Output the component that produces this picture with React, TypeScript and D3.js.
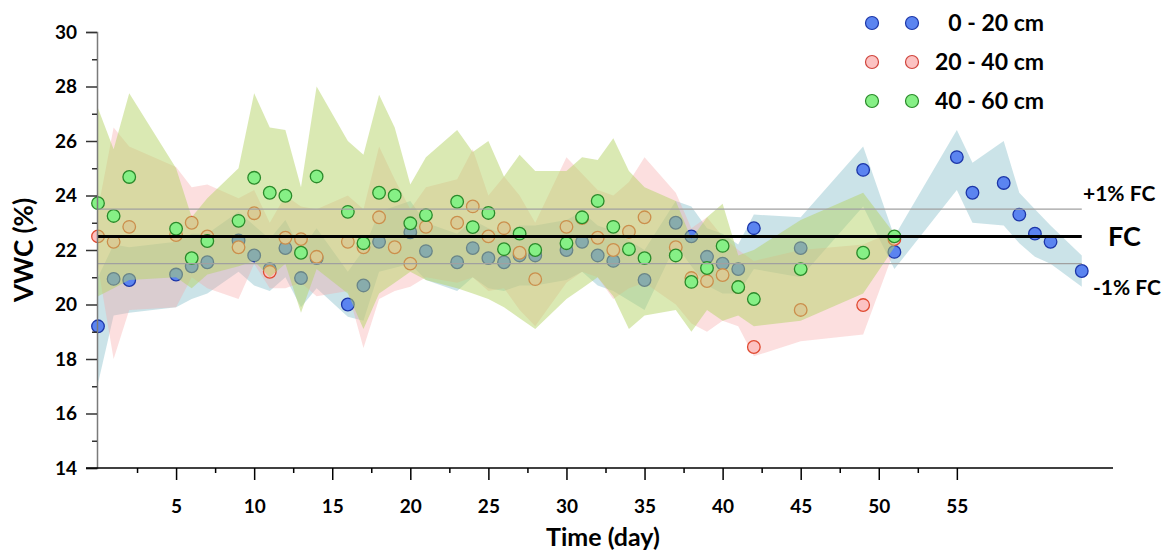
import React, { useEffect, useRef } from 'react';
import * as d3 from 'd3';

// days with readings for 20-40 cm and 40-60 cm
const days = [0, 1, 2, 5, 6, 7, 9, 10, 11, 12, 13, 14, 16, 17, 18, 19, 20, 21, 23, 24, 25, 26, 27, 28, 30, 31, 32, 33, 34, 35, 37, 38, 39, 40, 41, 42, 45, 49, 51];

// 0 - 20 cm has its own days
const blueDays = [0, 1, 2, 5, 6, 7, 9, 10, 11, 12, 13, 14, 16, 17, 18, 20, 21, 23, 24, 25, 26, 27, 28, 30, 31, 32, 33, 35, 37, 38, 39, 40, 41, 42, 45, 49, 51, 55, 56, 58, 59, 60, 61, 63];
const blueMean = [19.2, 20.94, 20.9, 21.1, 21.4, 21.55, 22.35, 21.8, 21.3, 22.07, 20.97, 21.7, 20.0, 20.7, 22.3, 22.65, 21.96, 21.55, 22.07, 21.7, 21.55, 21.8, 21.8, 22.0, 22.3, 21.8, 21.6, 20.9, 23.0, 22.5, 21.75, 21.5, 21.3, 22.8, 22.07, 24.94, 21.93, 25.41, 24.1, 24.46, 23.3, 22.6, 22.3, 21.23];
const blueUpper = [21.0, 22.2, 22.1, 22.3, 22.6, 22.6, 23.4, 22.9, 22.4, 23.1, 22.0, 22.8, 21.2, 22.0, 23.4, 23.8, 23.0, 22.6, 23.1, 22.8, 22.6, 22.9, 22.9, 23.1, 23.4, 22.9, 22.7, 22.0, 23.8, 23.6, 22.8, 22.6, 22.2, 23.3, 23.2, 25.8, 22.5, 26.4, 25.2, 26.0, 24.1, 23.5, 22.9, 21.8];
const blueLower = [17.1, 19.6, 19.7, 19.9, 20.2, 20.4, 21.2, 20.7, 20.5, 21.0, 19.9, 20.6, 19.55, 19.4, 21.2, 21.5, 20.9, 20.5, 21.0, 20.6, 20.5, 20.7, 20.7, 20.9, 21.2, 20.7, 20.5, 19.8, 22.2, 21.4, 20.7, 20.4, 20.4, 21.3, 21.0, 23.6, 21.3, 24.2, 23.0, 22.9, 22.25, 21.75, 21.5, 20.65];

const pinkMean = [22.5, 22.3, 22.85, 22.55, 23.0, 22.5, 22.1, 23.35, 21.2, 22.45, 22.4, 21.75, 22.3, 22.1, 23.2, 22.1, 21.5, 22.85, 23.0, 23.6, 22.5, 22.8, 21.9, 20.93, 22.85, 23.17, 22.45, 22.0, 22.67, 23.2, 22.1, 20.97, 20.86, 21.08, 20.64, 18.44, 19.8, 19.98, 22.4];
const pinkUpper = [23.5, 26.5, 25.8, 25.05, 24.3, 24.4, 23.9, 24.2, 23.0, 24.0, 23.6, 23.5, 24.0, 23.5, 25.8, 24.6, 23.5, 24.3, 24.6, 25.7, 24.0, 24.7, 24.0, 23.0, 25.4, 24.8, 24.2, 24.0, 24.5, 25.4, 24.1, 22.8, 23.2, 22.5, 22.0, 21.6, 22.0, 22.2, 22.7];
const pinkLower = [21.4, 18.0, 19.8, 19.9, 21.0, 20.6, 20.2, 21.5, 20.6, 20.6, 20.8, 20.3, 20.5, 18.4, 20.2, 20.5, 20.65, 21.0, 20.8, 21.0, 20.5, 20.6, 19.8, 19.2, 20.8, 21.2, 21.0, 20.2, 20.6, 20.8, 20.0, 19.3, 19.0, 19.4, 19.2, 18.1, 18.65, 18.9, 22.0];

const greenMean = [23.72, 23.25, 24.68, 22.78, 21.7, 22.33, 23.07, 24.65, 24.1, 23.99, 21.9, 24.7, 23.4, 22.25, 24.1, 24.0, 22.98, 23.28, 23.77, 22.84, 23.36, 22.03, 22.6, 22.0, 22.25, 23.2, 23.8, 22.85, 22.03, 21.7, 21.8, 20.83, 21.34, 22.15, 20.64, 20.2, 21.3, 21.9, 22.5];
const greenUpper = [27.2, 25.7, 27.75, 25.0, 23.2, 23.9, 25.0, 27.75, 26.5, 26.4, 24.3, 28.0, 26.0, 25.5, 27.7, 26.5, 24.4, 25.4, 26.4, 25.6, 26.0, 24.7, 25.5, 24.9, 24.9, 25.4, 25.3, 26.1, 24.9, 24.3, 23.8, 22.4, 23.2, 23.7, 21.8, 22.0, 23.1, 24.1, 22.6];
const greenLower = [20.3, 20.6, 20.9, 21.0, 20.6, 21.1, 21.4, 21.6, 21.0, 21.5, 19.7, 21.3, 20.4, 19.1, 20.4, 20.8, 21.2, 20.9, 20.6, 20.4, 20.2, 19.9, 19.5, 19.1, 20.2, 20.6, 21.0, 20.3, 19.1, 19.6, 19.8, 19.0, 19.8, 19.4, 19.6, 19.2, 19.4, 20.4, 22.1];

const legendLabels = ['0 - 20 cm', '20 - 40 cm', '40 - 60 cm'];
const yTicks = d3.range(14, 30.5, 1);
const xTicks = d3.range(2.5, 55.1, 2.5);
const fcValue = 22.5;
const refLines = [
  { v: 23.5, label: '+1% FC' },
  { v: 21.5, label: '-1% FC' },
];

const FONT = 'Lato, "Open Sans", sans-serif';

const App = () => {
  const ref = useRef<SVGSVGElement>(null);

  useEffect(() => {
    const svg = d3.select(ref.current);
    svg.selectAll('*').remove();

    const x = d3.scaleLinear().domain([0, 65]).range([98, 1113]);
    const y = d3.scaleLinear().domain([14, 30]).range([468, 32]);

    const band = (ds: number[], lo: number[], hi: number[]) =>
      d3.area<number>()
        .x((_, i) => x(ds[i]))
        .y0((_, i) => y(lo[i]))
        .y1((_, i) => y(hi[i]))(ds);

    const styles = {
      blue: { fill: '#5b84f0', stroke: '#1c36a8' },
      pink: { fill: '#fcc2c2', stroke: '#e04a30' },
      green: { fill: '#86f086', stroke: '#2a8a2a' },
    };

    // bands
    svg.append('path').attr('d', band(blueDays, blueLower, blueUpper))
      .attr('fill', '#8cc2cc').attr('fill-opacity', 0.45);
    svg.append('path').attr('d', band(days, pinkLower, pinkUpper))
      .attr('fill', '#f7a4a4').attr('fill-opacity', 0.35);

    const dots = (ds: number[], vals: number[], s: { fill: string; stroke: string }) => {
      svg.append('g').selectAll('circle')
        .data(ds)
        .join('circle')
        .attr('cx', d => x(d))
        .attr('cy', (_, i) => y(vals[i]))
        .attr('r', 6.3)
        .attr('fill', s.fill)
        .attr('stroke', s.stroke)
        .attr('stroke-width', 1.3);
    };

    dots(blueDays, blueMean, styles.blue);
    dots(days, pinkMean, styles.pink);

    svg.append('path').attr('d', band(days, greenLower, greenUpper))
      .attr('fill', '#b5d468').attr('fill-opacity', 0.5);

    dots(days, greenMean, styles.green);

    // reference lines
    refLines.forEach(r => {
      svg.append('line')
        .attr('x1', x(0)).attr('x2', x(63))
        .attr('y1', y(r.v)).attr('y2', y(r.v))
        .attr('stroke', '#a0a0a0').attr('stroke-width', 1.2);
    });
    svg.append('line')
      .attr('x1', x(0)).attr('x2', x(63))
      .attr('y1', y(fcValue)).attr('y2', y(fcValue))
      .attr('stroke', '#000').attr('stroke-width', 3);

    svg.append('text').attr('x', 1083).attr('y', y(23.5) - 8)
      .attr('font-size', 21).text(refLines[0].label);
    svg.append('text').attr('x', 1108).attr('y', y(fcValue) + 10)
      .attr('font-size', 27).text('FC');
    svg.append('text').attr('x', 1093).attr('y', y(21.5) + 31)
      .attr('font-size', 21).text(refLines[1].label);

    // y axis
    const yAxis = svg.append('g')
      .attr('transform', `translate(${x(0) - 1},0)`)
      .call(d3.axisLeft(y).tickValues(yTicks).tickSize(11).tickPadding(9)
        .tickFormat(d => (+d % 2 === 0 ? String(d) : '')));
    yAxis.select('.domain').attr('stroke', '#7a7a7a').attr('stroke-width', 1.5);
    yAxis.selectAll('.tick line')
      .attr('stroke', '#333').attr('stroke-width', 1.5)
      .attr('x2', (d: any) => (d % 2 === 0 ? -11 : -5));
    yAxis.selectAll('.tick text').attr('font-size', 19).attr('fill', '#000');

    // x axis
    const xAxis = svg.append('g')
      .attr('transform', `translate(0,${y(14)})`)
      .call(d3.axisBottom(x).tickValues(xTicks).tickSize(12).tickPadding(20)
        .tickFormat(d => (+d % 5 === 0 ? String(d) : '')));
    xAxis.select('.domain').attr('stroke', '#000').attr('stroke-width', 1.5)
      .attr('d', `M${x(0) - 12},0H${x(65)}`);
    xAxis.selectAll('.tick line')
      .attr('stroke', '#000').attr('stroke-width', 1.5)
      .attr('y2', (d: any) => (d % 5 === 0 ? 12 : 5));
    xAxis.selectAll('.tick text').attr('font-size', 19).attr('fill', '#000');

    svg.selectAll('text').attr('font-family', FONT).attr('font-weight', 700);

    // axis titles
    svg.append('text')
      .attr('x', 603).attr('y', 546)
      .attr('text-anchor', 'middle')
      .attr('font-family', FONT).attr('font-weight', 700).attr('font-size', 25)
      .text('Time (day)');
    svg.append('text')
      .attr('transform', `translate(33,${y(22)}) rotate(-90)`)
      .attr('text-anchor', 'middle')
      .attr('font-family', FONT).attr('font-weight', 700).attr('font-size', 26)
      .text('VWC (%)');

    // legend
    const legendStyles = [styles.blue, styles.pink, styles.green];
    const legendFills = ['#5b84f0', '#fcc2c2', '#86f086'];
    const legendStrokes = ['#1c36a8', '#d0443c', '#2a8a2a'];
    legendLabels.forEach((lab, i) => {
      const ly = 23 + i * 39;
      [872, 912].forEach(lx => {
        svg.append('circle')
          .attr('cx', lx).attr('cy', ly).attr('r', 6.5)
          .attr('fill', legendFills[i])
          .attr('stroke', legendStrokes[i] || legendStyles[i].stroke).attr('stroke-width', 1.2);
      });
      svg.append('text')
        .attr('x', 1044).attr('y', ly + 8)
        .attr('text-anchor', 'end')
        .attr('font-family', FONT).attr('font-weight', 700).attr('font-size', 23)
        .text(lab);
    });
  }, []);

  return (
    <svg ref={ref} width={1168} height={550}
      style={{ position: 'absolute', left: 0, top: 0, background: '#fff' }} />
  );
};

export default App;
